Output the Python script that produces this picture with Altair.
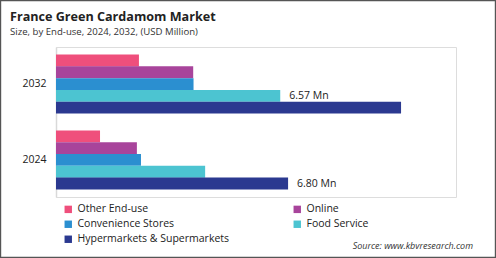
import altair as alt
import pandas as pd

years = ["2032", "2024"]
categories = ["Other End-use", "Online", "Convenience Stores", "Food Service", "Hypermarkets & Supermarkets"]
colors = ["#EF4F7C", "#A8449B", "#2B8FD0", "#4CC4D1", "#2B3990"]
values_2032 = [2.43, 4.02, 4.03, 6.57, 10.11]
values_2024 = [1.29, 2.37, 2.49, 4.37, 6.80]
label_year = ["2032", "2024"]
label_cat = ["Food Service", "Hypermarkets & Supermarkets"]
label_val = [6.57, 6.80]
label_text = ["6.57 Mn", "6.80 Mn"]
title_text = "France Green Cardamom Market"
subtitle_text = "Size, by End-use, 2024, 2032, (USD Million)"
source_text = "Source: www.kbvresearch.com"

rows = []
for y, vals in zip(years, [values_2032, values_2024]):
    for c, v in zip(categories, vals):
        rows.append({"year": y, "cat": c, "value": v})
df = pd.DataFrame(rows)
lab = pd.DataFrame({"year": label_year, "cat": label_cat, "value": label_val, "text": label_text})

FONT = "Open Sans"
xs = alt.Scale(domain=[0, 11.72], nice=False, zero=True)
ys = alt.Scale(domain=years, paddingInner=0.224, paddingOuter=0.1)
yo = alt.Scale(domain=categories, paddingInner=0, paddingOuter=0)

bars = alt.Chart(df).mark_bar(size=11.8).encode(
    x=alt.X("value:Q", scale=xs, axis=None),
    y=alt.Y("year:N", scale=ys, sort=years, title=None,
            axis=alt.Axis(ticks=False, domain=True, domainColor="#d9d9d9", domainWidth=1.5,
                          labelFont=FONT, labelFontSize=10.5, labelColor="#222", labelPadding=10)),
    yOffset=alt.YOffset("cat:N", scale=yo, sort=categories),
    color=alt.Color("cat:N", scale=alt.Scale(domain=categories, range=colors), sort=categories,
                    legend=alt.Legend(title=None, orient="none", legendX=7, legendY=157, columns=2,
                                      direction="horizontal",
                                      columnPadding=62, rowPadding=4, symbolType="square", symbolSize=55,
                                      symbolStrokeWidth=0, labelFont=FONT, labelFontSize=10.5,
                                      labelColor="#222", padding=0, labelOffset=4)),
)

texts = alt.Chart(lab).mark_text(align="left", baseline="middle", dx=9, font=FONT, fontSize=10.5, color="#222").encode(
    x=alt.X("value:Q", scale=xs),
    y=alt.Y("year:N", scale=ys, sort=years),
    yOffset=alt.YOffset("cat:N", scale=yo, sort=categories),
    text="text:N",
)

source = alt.Chart(alt.Data(values=[{"t": source_text}])).mark_text(
    align="right", baseline="middle", font=FONT, fontSize=9, fontStyle="italic", color="#333"
).encode(x=alt.value(417), y=alt.value(199), text="t:N")

title = alt.Chart(alt.Data(values=[{"t": title_text}])).mark_text(
    align="left", baseline="alphabetic", font=FONT, fontSize=12.6, fontWeight="bold", color="#222"
).encode(x=alt.value(-46), y=alt.value(-26), text="t:N")

subtitle = alt.Chart(alt.Data(values=[{"t": subtitle_text}])).mark_text(
    align="left", baseline="alphabetic", font=FONT, fontSize=9.6, color="#333"
).encode(x=alt.value(-46), y=alt.value(-12), text="t:N")

border = alt.Chart(alt.Data(values=[{"a": 1}])).mark_rect(fill=None, stroke="#555", strokeWidth=1.2).encode(
    x=alt.value(-55.4), x2=alt.value(439.4), y=alt.value(-46.4), y2=alt.value(210.4)
)

chart = alt.layer(bars, texts, source, title, subtitle, border).properties(
    width=400, height=150,
    padding={"left": 56, "top": 47, "right": 40, "bottom": 61},
    autosize=alt.AutoSizeParams(type="none"),
).configure_view(stroke=None).configure(background="white")

chart.save("out.html", embed_options={"renderer": "svg", "actions": False})
